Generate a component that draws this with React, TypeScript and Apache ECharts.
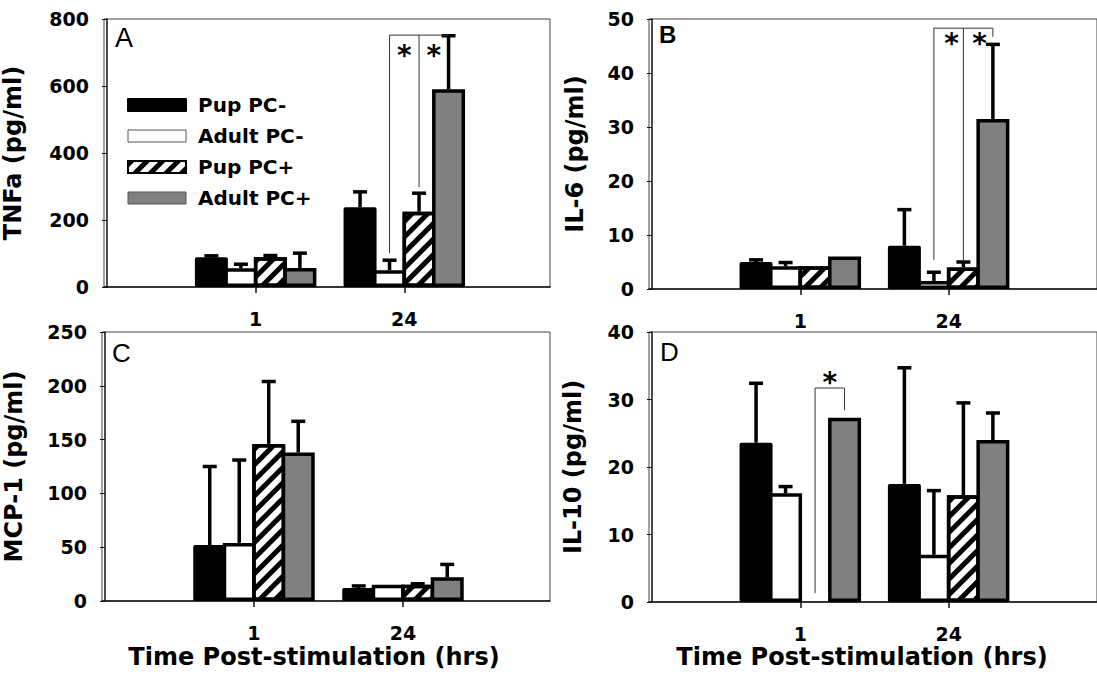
import React, { useEffect, useRef } from 'react';
import * as echarts from 'echarts';

// ---------- DATA ----------
const categories = ['1', '24'];
const seriesNames = ['Pup PC-', 'Adult PC-', 'Pup PC+', 'Adult PC+'];

// values per series: [1 h, 24 h]
const tnfaValues = [[89, 238], [56, 50], [89, 225], [57, 590]];
const tnfaErrors = [[4, 46], [12, 30], [5, 55], [44, 160]];

const il6Values = [[5.0, 8.0], [4.2, 1.5], [4.2, 4.0], [6.0, 31.5]];
const il6Errors = [[0.4, 6.7], [0.7, 1.6], [0, 1.0], [0, 13.8]];

const mcp1Values = [[52, 12], [54, 15], [146, 15], [138, 22]];
const mcp1Errors = [[73, 2], [77, 0], [58, 1], [29, 12]];

const il10Values = [[23.6, 17.5], [16.1, 7.0], [null, 15.8], [27.3, 24.0]];
const il10Errors = [[8.8, 17.2], [1.0, 9.5], [null, 13.7], [0, 4.0]];

// significance brackets: segments [group, seriesPos, value, group, seriesPos, value]
const tnfaBrackets = [[2, 1, 101, 2, 1, 752], [2, 1, 752, 2, 3, 752], [2, 2, 298, 2, 2, 752]];
const tnfaStars = [[2, 1.5, 707], [2, 2.5, 707]];
const il6Brackets = [[2, 1, 5.4, 2, 1, 48.3], [2, 1, 48.3, 2, 3, 48.3], [2, 3, 48.3, 2, 3, 46.7], [2, 2, 5.0, 2, 2, 48.3]];
const il6Stars = [[2, 1.6, 46.3], [2, 2.55, 46.3]];
const mcp1Brackets: number[][] = [];
const mcp1Stars: number[][] = [];
const il10Brackets = [[1, 2, 1.3, 1, 2, 31.7], [1, 2, 31.7, 1, 3, 31.7], [1, 3, 31.7, 1, 3, 28.4]];
const il10Stars = [[1, 2.5, 33.2]];

const yMaxes = [800, 50, 250, 40];
const yIntervals = [200, 10, 50, 10];
const yNames = ['TNFa (pg/ml)', 'IL-6 (pg/ml)', 'MCP-1 (pg/ml)', 'IL-10 (pg/ml)'];
const panelLetters = ['A', 'B', 'C', 'D'];
const xTitle = 'Time Post-stimulation (hrs)';

// ---------- LAYOUT / STYLE ----------
const FONT = 'DejaVu Sans';
const BAR_W = 33;
const BAR_OVERLAP = 3.5;
const BAR_STEP = BAR_W - BAR_OVERLAP;
const PX_PER_UNIT = 149;
const X_MIN = -0.02;
const grids = [
  { left: 103, top: 19, width: 447, height: 268 },
  { left: 649, top: 19, width: 450, height: 270 },
  { left: 102, top: 332, width: 448, height: 269 },
  { left: 649, top: 332, width: 450, height: 270 },
];
const nameGaps = [79, 62, 76, 64];
const letterPos = [
  { x: 115, y: 38, font: 'normal 27px "Liberation Sans"' },
  { x: 659, y: 34, font: 'bold 24px "Liberation Sans"' },
  { x: 112, y: 353, font: 'normal 26px "Liberation Sans"' },
  { x: 660, y: 352, font: 'normal 26px "Liberation Sans"' },
];

const hatch = {
  symbol: 'rect',
  symbolSize: 1,
  dashArrayX: [1, 0],
  dashArrayY: [5, 6],
  rotation: -Math.PI / 4,
  color: '#000',
};

const barStyles: any[] = [
  { color: '#000', borderColor: '#000', borderWidth: 3.5, borderJoin: 'round' },
  { color: '#fff', borderColor: '#000', borderWidth: 3.5 },
  { color: '#fff', borderColor: '#000', borderWidth: 3.5, decal: hatch },
  { color: '#808080', borderColor: '#000', borderWidth: 3.5 },
];

const panelValues = [tnfaValues, il6Values, mcp1Values, il10Values];
const panelErrors = [tnfaErrors, il6Errors, mcp1Errors, il10Errors];
const panelBrackets = [tnfaBrackets, il6Brackets, mcp1Brackets, il10Brackets];
const panelStars = [tnfaStars, il6Stars, mcp1Stars, il10Stars];

function buildOption() {
  const series: any[] = [];
  const xAxis: any[] = [];
  const yAxis: any[] = [];
  const grid: any[] = [];
  const graphic: any[] = [];

  for (let p = 0; p < 4; p++) {
    grid.push({ ...grids[p], show: true, borderColor: '#444', borderWidth: 1, containLabel: false });
    xAxis.push({
      type: 'value',
      gridIndex: p,
      min: X_MIN,
      max: X_MIN + grids[p].width / PX_PER_UNIT,
      axisLine: { show: true, onZero: false, lineStyle: { color: '#111', width: 1.5 } },
      axisTick: { show: true, length: 6, customValues: [1, 2], lineStyle: { color: '#111', width: 1.5 } },
      axisLabel: {
        customValues: [1, 2],
        formatter: (v: number) => categories[Math.round(v) - 1] ?? '',
        margin: 22,
        fontFamily: FONT,
        fontWeight: 'bold',
        fontSize: 19,
        color: '#000',
      },
      splitLine: { show: false },
    });
    yAxis.push({
      type: 'value',
      gridIndex: p,
      min: 0,
      max: yMaxes[p],
      interval: yIntervals[p],
      axisLine: { show: true, lineStyle: { color: '#111', width: 1.5 } },
      axisTick: { show: true, length: 5, lineStyle: { color: '#111', width: 1 } },
      axisLabel: { margin: 15, fontFamily: FONT, fontWeight: 'bold', fontSize: 19, color: '#000' },
      splitLine: { show: false },
      name: yNames[p],
      nameLocation: 'middle',
      nameGap: nameGaps[p],
      nameTextStyle: { fontFamily: FONT, fontWeight: 'bold', fontSize: 24, color: '#000' },
    });

    for (let s = 0; s < 4; s++) {
      series.push({
        type: 'bar',
        name: seriesNames[s],
        xAxisIndex: p,
        yAxisIndex: p,
        barWidth: BAR_W,
        barGap: `${(-BAR_OVERLAP / BAR_W) * 100}%`,
        itemStyle: barStyles[s],
        data: categories.map((_, j) => {
          const v = panelValues[p][s][j];
          return [j + 1, v == null ? '-' : v];
        }),
        z: 2,
      });
    }

    // error bars
    const errData: any[] = [];
    for (let s = 0; s < 4; s++) {
      categories.forEach((_, j) => {
        const v = panelValues[p][s][j];
        const e = panelErrors[p][s][j];
        if (v != null && e) errData.push([j + 1, v, e, s]);
      });
    }
    series.push({
      type: 'custom',
      xAxisIndex: p,
      yAxisIndex: p,
      z: 3,
      silent: true,
      data: errData,
      renderItem: (params: any, api: any) => {
        const x = api.value(0);
        const v = api.value(1);
        const e = api.value(2);
        const s = api.value(3);
        const base = api.coord([x, v]);
        const top = api.coord([x, v + e]);
        const cx = base[0] + (s - 1.5) * BAR_STEP;
        return {
          type: 'group',
          children: [
            { type: 'line', shape: { x1: cx, y1: base[1], x2: cx, y2: top[1] }, style: { stroke: '#000', lineWidth: 3.5 } },
            { type: 'line', shape: { x1: cx - 7, y1: top[1], x2: cx + 7, y2: top[1] }, style: { stroke: '#000', lineWidth: 3.5 } },
          ],
        };
      },
    });

    if (panelBrackets[p].length) {
      series.push({
        type: 'custom',
        xAxisIndex: p,
        yAxisIndex: p,
        z: 4,
        silent: true,
        data: panelBrackets[p],
        renderItem: (params: any, api: any) => {
          const a = api.coord([api.value(0), api.value(2)]);
          const b = api.coord([api.value(3), api.value(5)]);
          const ax = a[0] + (api.value(1) - 1.5) * BAR_STEP;
          const bx = b[0] + (api.value(4) - 1.5) * BAR_STEP;
          return { type: 'line', shape: { x1: ax, y1: a[1], x2: bx, y2: b[1] }, style: { stroke: '#333', lineWidth: 1 } };
        },
      });
    }
    if (panelStars[p].length) {
      series.push({
        type: 'custom',
        xAxisIndex: p,
        yAxisIndex: p,
        z: 4,
        silent: true,
        data: panelStars[p],
        renderItem: (params: any, api: any) => {
          const c = api.coord([api.value(0), api.value(2)]);
          const cx = c[0] + (api.value(1) - 1.5) * BAR_STEP;
          return {
            type: 'text',
            x: cx,
            y: c[1] + 5,
            style: { text: '*', font: `bold 28px "${FONT}"`, fill: '#000', align: 'center', verticalAlign: 'middle', textAlign: 'center', textVerticalAlign: 'middle' },
          };
        },
      });
    }

    graphic.push({
      type: 'text',
      x: letterPos[p].x,
      y: letterPos[p].y,
      style: { text: panelLetters[p], font: letterPos[p].font, fill: '#000', align: 'left', verticalAlign: 'middle', textAlign: 'left', textVerticalAlign: 'middle' },
    });
  }

  graphic.push({
    type: 'text', x: 314, y: 657,
    style: { text: xTitle, font: `bold 24px "${FONT}"`, fill: '#000', align: 'center', verticalAlign: 'middle', textAlign: 'center', textVerticalAlign: 'middle' },
  });
  graphic.push({
    type: 'text', x: 862, y: 657,
    style: { text: xTitle, font: `bold 24px "${FONT}"`, fill: '#000', align: 'center', verticalAlign: 'middle', textAlign: 'center', textVerticalAlign: 'middle' },
  });

  return {
    animation: false,
    backgroundColor: '#fff',
    grid,
    xAxis,
    yAxis,
    series,
    graphic,
    legend: {
      orient: 'vertical',
      left: 122,
      top: 90,
      itemWidth: 58,
      itemHeight: 12,
      itemGap: 11,
      icon: 'rect',
      selectedMode: false,
      textStyle: { fontFamily: FONT, fontWeight: 'bold', fontSize: 20, color: '#000', lineHeight: 12, padding: [0, 0, 0, 7] },
      data: [
        { name: 'Pup PC-' },
        { name: 'Adult PC-', itemStyle: { borderWidth: 1, borderColor: '#555' } },
        { name: 'Pup PC+' },
        { name: 'Adult PC+', itemStyle: { borderWidth: 1, borderColor: '#555' } },
      ],
    },
  };
}

export default function App() {
  const ref = useRef<HTMLDivElement>(null);
  useEffect(() => {
    if (!ref.current) return;
    const chart = echarts.init(ref.current, undefined, { renderer: 'svg' });
    chart.setOption(buildOption() as any);
    return () => chart.dispose();
  }, []);
  return (
    <div
      ref={ref}
      style={{ position: 'absolute', left: 0, top: 0, width: 1097, height: 676, background: '#fff' }}
    />
  );
}
